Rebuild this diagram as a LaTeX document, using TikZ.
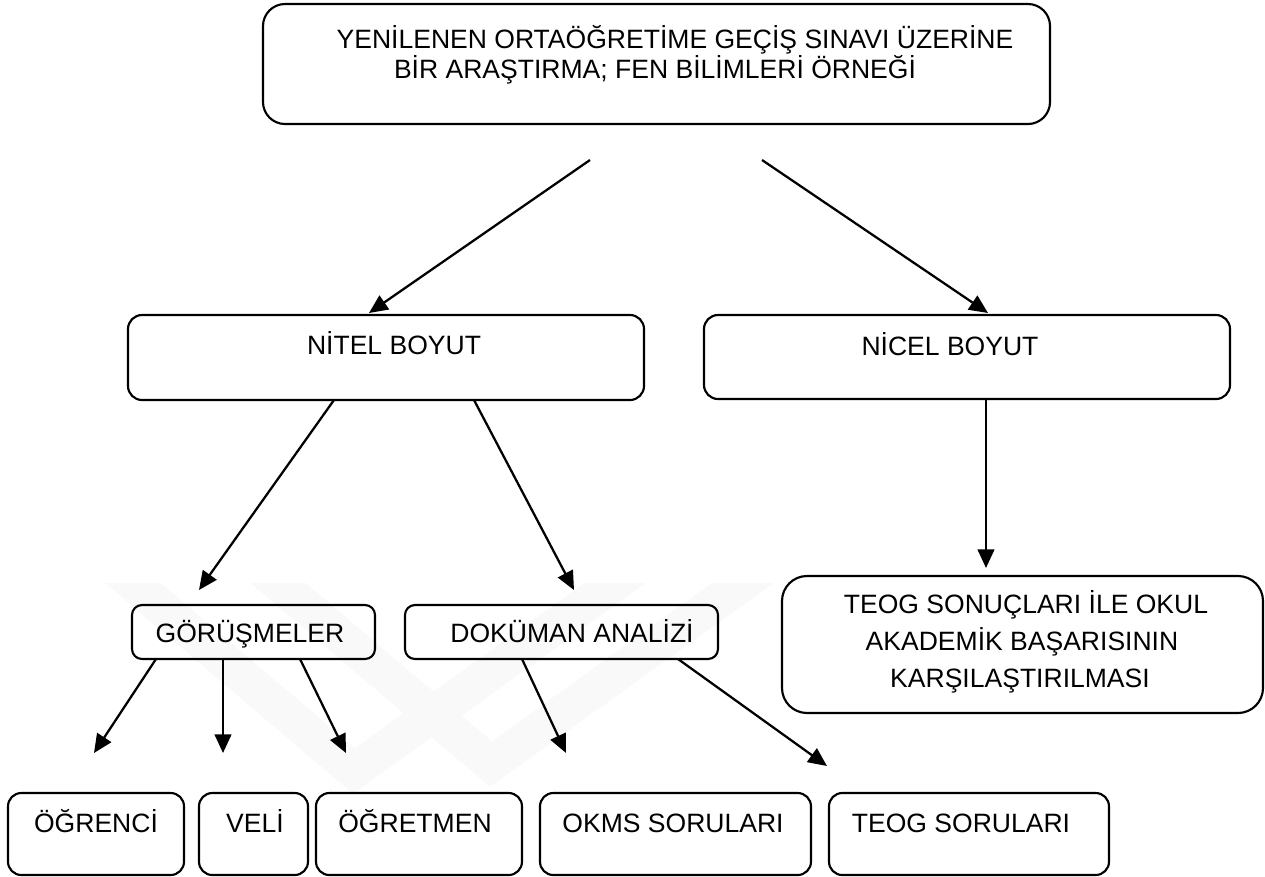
\documentclass[tikz,border=0pt]{standalone}
\usepackage{fontspec}
\setmainfont{Liberation Sans}
\usetikzlibrary{arrows.meta,calc}
\begin{document}
\begin{tikzpicture}[x=0.75pt,y=-0.75pt,
  box/.style={draw=black,line width=1.6pt,rounded corners=#1,inner sep=0pt,outer sep=0pt},
  box/.default=10pt,
  lbl/.style={anchor=base,inner sep=0pt,font=\fontsize{19.9pt}{26pt}\selectfont},
  arr/.style={line width=1.7pt,-{Triangle[length=14pt,width=12.5pt]}},
  wmband/.style={draw=gray!5,line width=27pt,line join=miter}]
\useasboundingbox (0,0) rectangle (1265,876);

% faint background emblem
\begin{scope}
  \clip (0,583) rectangle (1265,876);
  \draw[wmband] (106,560) -- (354,771) -- (647,560);
  \draw[wmband] (251,560) -- (491,764) -- (775,560);
\end{scope}

% title
\node[box=16.5pt,minimum width=590.25pt,minimum height=90pt] (top) at (656.5,64) {};
\node[lbl] (t1) at (675,48) {YENİLENEN ORTAÖĞRETİME GEÇİŞ SINAVI ÜZERİNE};
\node[lbl] (t2) at (655,78) {BİR ARAŞTIRMA; FEN BİLİMLERİ ÖRNEĞİ};

% dimensions
\node[box=10.5pt,minimum width=387pt,minimum height=63.75pt] (nitel) at (386,357.5) {};
\node[lbl] (nitelt) at (394,354) {NİTEL BOYUT};
\node[box=10.5pt,minimum width=394.5pt,minimum height=63pt] (nicel) at (967,357) {};
\node[lbl] (nicelt) at (950,355) {NİCEL BOYUT};

% comparison box
\node[box=18.75pt,minimum width=360.75pt,minimum height=102.75pt] (sonuc) at (1022.5,644.5) {};
\node[lbl] (s1) at (1026,613) {TEOG SONUÇLARI İLE OKUL};
\node[lbl] (s2) at (1022,650) {AKADEMİK BAŞARISININ};
\node[lbl] (s3) at (1020,687) {KARŞILAŞTIRILMASI};

% methods
\node[box=7.5pt,minimum width=182.25pt,minimum height=40.5pt] (gor) at (253.5,632) {};
\node[lbl] (gort) at (250,642) {GÖRÜŞMELER};
\node[box=7.5pt,minimum width=234.75pt,minimum height=40.5pt] (dok) at (561.5,632) {};
\node[lbl] (dokt) at (572,642) {DOKÜMAN ANALİZİ};

% sources
\node[box,minimum width=132pt,minimum height=61.5pt] (ogr) at (96,834) {};
\node[lbl] (ogrt) at (96,832) {ÖĞRENCİ};
\node[box,minimum width=81.75pt,minimum height=61.5pt] (veli) at (253.5,834) {};
\node[lbl] (velit) at (255,832) {VELİ};
\node[box,minimum width=154.5pt,minimum height=61.5pt] (ogrm) at (419,834) {};
\node[lbl] (ogrmt) at (415,832) {ÖĞRETMEN};
\node[box,minimum width=203.25pt,minimum height=61.5pt] (okms) at (675.5,834) {};
\node[lbl] (okmst) at (673,832) {OKMS SORULARI};
\node[box,minimum width=210pt,minimum height=61.5pt] (teogs) at (969,834) {};
\node[lbl] (teogst) at (961,832) {TEOG SORULARI};

% free arrow ends
\coordinate (e1s) at (590,160);
\coordinate (e1t) at (369,313);
\coordinate (e2s) at (762,160);
\coordinate (e2t) at (988,313);
\coordinate (e3t) at (199,590);
\coordinate (e4t) at (574,590);
\coordinate (e5t) at (986,568);
\coordinate (e6t) at (94,753);
\coordinate (e7t) at (223,753);
\coordinate (e8t) at (346,753);
\coordinate (e9t) at (566,753);
\coordinate (e10t) at (827,766);

% connectors
\draw[arr] (e1s) -- (e1t);
\draw[arr] (e2s) -- (e2t);
\draw[arr] ($(nitel.south west)+(206,0)$) -- (e3t);
\draw[arr] ($(nitel.south west)+(346,0)$) -- (e4t);
\draw[arr] ($(nicel.south west)+(282,0)$) -- (e5t);
\draw[arr] ($(gor.south west)+(24,0)$) -- (e6t);
\draw[arr] ($(gor.south west)+(91,0)$) -- (e7t);
\draw[arr] ($(gor.south west)+(168,0)$) -- (e8t);
\draw[arr] ($(dok.south west)+(117,0)$) -- (e9t);
\draw[arr] ($(dok.south west)+(273,0)$) -- (e10t);
\end{tikzpicture}
\end{document}
